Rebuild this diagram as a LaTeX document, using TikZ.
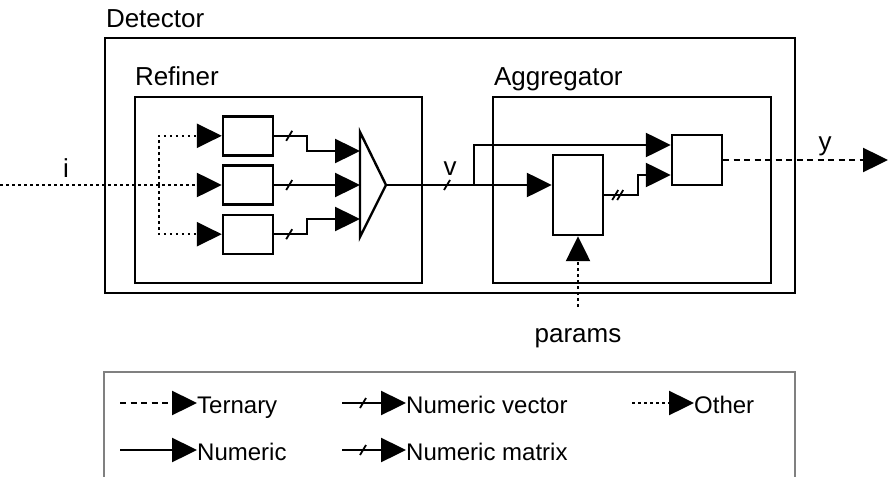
\documentclass[tikz,border=0pt]{standalone}
\usepackage{fontspec}
\setmainfont{Liberation Sans}
\usetikzlibrary{positioning,arrows.meta,calc}

\begin{document}
\begin{tikzpicture}[x=1pt,y=-1pt,
      frame/.style={draw,line width=2.4pt,inner sep=0pt},
      cell/.style={draw,line width=2.4pt,inner sep=0pt,minimum width=50pt,minimum height=39pt},
      title/.style={font=\fontsize{26}{30}\selectfont,inner sep=0pt,anchor=base west},
      lbl/.style={font=\fontsize{26}{30}\selectfont,inner sep=0pt,anchor=base},
      key/.style={font=\fontsize{24}{28}\selectfont,inner sep=0pt,anchor=base west},
      plain/.style={line width=2.4pt},
      wire/.style={line width=2.4pt,-{Triangle[length=25pt,width=24pt]}},
      ternary/.style={dash pattern=on 6pt off 4.5pt},
      other/.style={dash pattern=on 2.6pt off 3.4pt},
      tickone/.pic={\draw[line width=1.8pt] (-3,5) -- (3,-5);},
      ticktwo/.pic={\draw[line width=1.8pt] (-5,5) -- (1,-5) (0,5) -- (6,-5);}]
    \useasboundingbox (0,0) rectangle (890,476);
    % outer frames
    \node[frame,minimum width=690pt,minimum height=255pt] (det) at (450,165.5) {};
    \node[frame,minimum width=287pt,minimum height=186pt] (ref) at (278.5,190) {};
    \node[frame,minimum width=278pt,minimum height=186pt] (agg) at (632,190) {};
    \node[title] (detL) at ($(det.north west)+(2,-9)$) {Detector};
    \node[title] (refL) at ($(ref.north west)+(1,-10)$) {Refiner};
    \node[title] (aggL) at ($(agg.north west)+(2,-10)$) {Aggregator};
    % refiner
    \node[cell] (r2) at (248,185) {};
    \node[cell,above=7.8pt of r2] (r1) {};
    \node[cell,below=7.8pt of r2] (r3) {};
    \coordinate (mtip) at (386,185);
    \coordinate (m1) at (360,151);
    \coordinate (m2) at (360,185);
    \coordinate (m3) at (360,219);
    \draw[plain,line join=miter] (360,132) -- (mtip) -- (360,237) -- cycle;
    \coordinate (in) at (0,185);
    \coordinate (fork) at (159,185);
    \draw[wire,other] (in) -- (r2);
    \draw[wire,other] (fork) |- (r1);
    \draw[wire,other] (fork) |- (r3);
    \node[lbl] (iL) at (66,177) {i};
    \draw[wire] (r1.east) -- ++(33,0) |- (m1);
    \draw[wire] (r2) -- (m2);
    \draw[wire] (r3.east) -- ++(33,0) |- (m3);
    \pic at ($(r1.east)+(15,0)$) {tickone};
    \pic at ($(r2.east)+(15,0)$) {tickone};
    \pic at ($(r3.east)+(15,0)$) {tickone};
    % aggregator
    \node[cell,minimum height=80pt] (a1) at (578,195) {};
    \node[cell,minimum height=50pt] (a2) at (697,160) {};
    \coordinate (vfork) at (474,185);
    \draw[wire] (mtip) -- (a1.west |- mtip);
    \draw[wire] (vfork) |- ($(a2.west)+(0,-15)$);
    \pic at ($(mtip)+(61,0)$) {tickone};
    \node[lbl] (vL) at (450,175) {v};
    \draw[wire] (a1.east) -- ++(34,0) |- ($(a2.west)+(0,15)$);
    \pic at ($(a1.east)+(13,0)$) {ticktwo};
    \coordinate (out) at (888,160);
    \draw[wire,ternary] (a2) -- (out);
    \node[lbl] (yL) at (825,150) {y};
    \coordinate (pin) at (578,307);
    \draw[wire,other] (pin) -- (a1);
    \node[lbl] (pL) at (578,342) {params};
    % legend
    \draw[line width=1.2pt,gray] (104,480) |- (795,372) -- (795,480);
    \node[key] (kt) at (197,413) {Ternary};
    \node[key] (kn) at (197,460) {Numeric};
    \node[key] (kv) at (406,413) {Numeric vector};
    \node[key] (km) at (406,460) {Numeric matrix};
    \node[key] (ko) at (694,413) {Other};
    \draw[wire,ternary] ([shift={(-77,-10)}]kt.base west) -- ([yshift=10pt]kt.base west);
    \draw[wire] ([shift={(-77,-10)}]kn.base west) -- ([yshift=10pt]kn.base west);
    \draw[wire] ([shift={(-64,-10)}]kv.base west) -- ([yshift=10pt]kv.base west);
    \pic at ([shift={(-43,-10)}]kv.base west) {tickone};
    \draw[wire] ([shift={(-64,-10)}]km.base west) -- ([yshift=10pt]km.base west);
    \pic at ([shift={(-43,-10)}]km.base west) {tickone};
    \draw[wire,other] ([shift={(-62,-10)}]ko.base west) -- ([yshift=10pt]ko.base west);
  \end{tikzpicture}
\end{document}
